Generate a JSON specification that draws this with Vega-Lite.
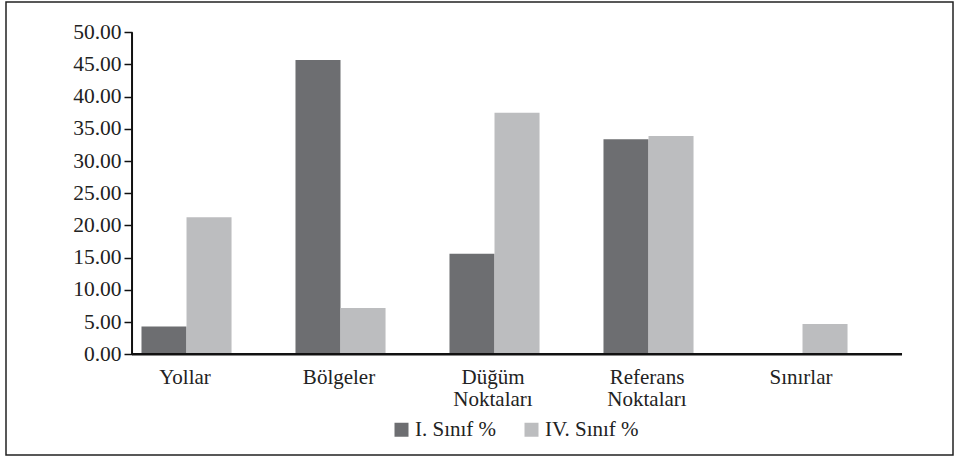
{
  "$schema": "https://vega.github.io/schema/vega-lite/v6.json",
  "width": 947,
  "height": 453,
  "autosize": {"type": "none"},
  "padding": {"left": 6, "top": 2, "right": 2, "bottom": 1},
  "background": "white",
  "config": {
    "view": {"stroke": "#222", "strokeWidth": 1.5},
    "font": "Liberation Serif"
  },
  "layer": [
    {
      "data": {
        "values": [
          {"category": "Yollar", "series": "I. Sınıf %", "value": 4.3},
          {"category": "Yollar", "series": "IV. Sınıf %", "value": 21.3},
          {"category": "Bölgeler", "series": "I. Sınıf %", "value": 45.7},
          {"category": "Bölgeler", "series": "IV. Sınıf %", "value": 7.2},
          {"category": "Düğüm Noktaları", "series": "I. Sınıf %", "value": 15.6},
          {"category": "Düğüm Noktaları", "series": "IV. Sınıf %", "value": 37.5},
          {"category": "Referans Noktaları", "series": "I. Sınıf %", "value": 33.4},
          {"category": "Referans Noktaları", "series": "IV. Sınıf %", "value": 33.9},
          {"category": "Sınırlar", "series": "I. Sınıf %", "value": 0},
          {"category": "Sınırlar", "series": "IV. Sınıf %", "value": 4.7}
        ]
      },
      "mark": {"type": "bar"},
      "encoding": {
        "x": {
          "field": "category",
          "type": "nominal",
          "sort": null,
          "scale": {
            "domain": ["Yollar", "Bölgeler", "Düğüm Noktaları", "Referans Noktaları", "Sınırlar"],
            "paddingInner": 0,
            "paddingOuter": 0.5747,
            "align": 0.712
          },
          "axis": {
            "orient": "bottom",
            "offset": -101,
            "title": null,
            "domain": false,
            "ticks": false,
            "tickSize": 0,
            "labelAngle": 0,
            "labelPadding": 12,
            "labelOffset": -24,
            "labelFontSize": 21,
            "labelFont": "Liberation Serif",
            "labelColor": "#222",
            "labelLineHeight": 22,
            "labelOverlap": false,
            "labelBound": false,
            "labelExpr": "split(datum.label, ' ')"
          }
        },
        "xOffset": {
          "field": "series",
          "type": "nominal",
          "scale": {
            "domain": ["I. Sınıf %", "IV. Sınıf %", "-"],
            "paddingInner": 0,
            "paddingOuter": 0.21
          }
        },
        "y": {
          "field": "value",
          "type": "quantitative",
          "scale": {"domain": [-15.637, 54.705], "nice": false, "zero": false},
          "axis": {
            "orient": "left",
            "offset": -126,
            "title": null,
            "domain": false,
            "grid": false,
            "values": [0, 5, 10, 15, 20, 25, 30, 35, 40, 45, 50],
            "format": ".2f",
            "tickSize": 8,
            "tickColor": "#111",
            "tickWidth": 1.5,
            "labelPadding": 3,
            "labelFontSize": 21.5,
            "labelFont": "Liberation Serif",
            "labelColor": "#222"
          }
        },
        "y2": {"datum": 0},
        "color": {
          "field": "series",
          "type": "nominal",
          "scale": {
            "domain": ["I. Sınıf %", "IV. Sınıf %"],
            "range": ["#6d6e71", "#bcbdbf"]
          },
          "legend": {
            "orient": "none",
            "legendX": 385,
            "legendY": 417,
            "direction": "horizontal",
            "title": null,
            "symbolType": "square",
            "symbolSize": 196,
            "symbolStrokeWidth": 0,
            "labelFontSize": 21,
            "labelFont": "Liberation Serif",
            "labelColor": "#222",
            "labelOffset": 3,
            "columnPadding": 24,
            "padding": 0
          }
        }
      }
    },
    {
      "data": {"values": [{"a": 1}]},
      "mark": {"type": "rule", "color": "#111", "strokeWidth": 2},
      "encoding": {
        "x": {"datum": "Yollar", "type": "nominal", "bandPosition": 0},
        "y": {"datum": 0, "type": "quantitative"},
        "y2": {"datum": 50}
      }
    },
    {
      "data": {"values": [{"a": 1}]},
      "mark": {"type": "rule", "color": "#111", "strokeWidth": 2.5},
      "encoding": {
        "x": {"datum": "Yollar", "type": "nominal", "bandPosition": 0},
        "x2": {"datum": "Sınırlar", "bandPosition": 1},
        "y": {"datum": 0, "type": "quantitative"}
      }
    }
  ]
}
